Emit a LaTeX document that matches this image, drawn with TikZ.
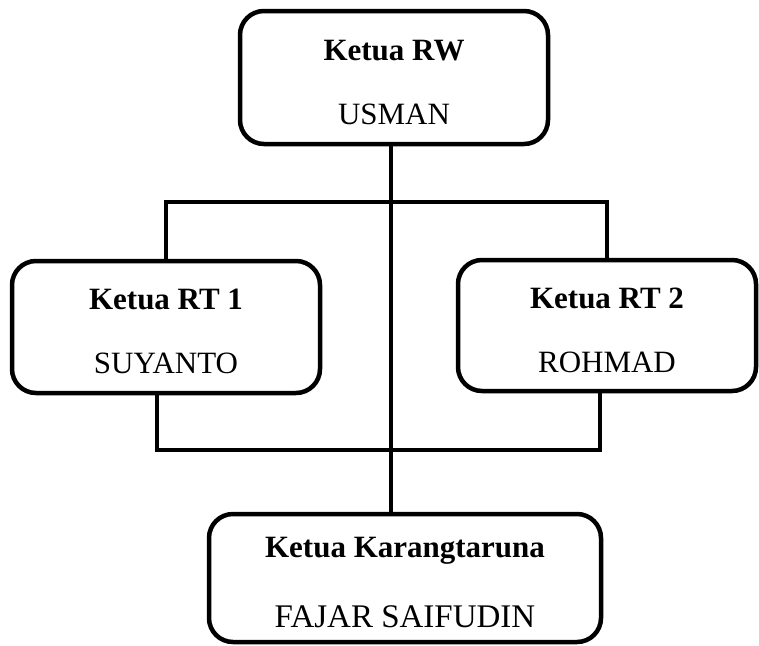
\documentclass[tikz,border=0pt]{standalone}
\usepackage{fontspec}
\setmainfont{Liberation Serif}
\usetikzlibrary{positioning,calc}
\newcommand{\jab}[2]{\rule{0pt}{30pt}\textbf{#1}\\#2}

\begin{document}
\begin{tikzpicture}[x=1pt, y=-1pt, line width=4.5pt,
    jabatan/.style={draw, rounded corners=24pt, align=center, inner sep=0pt, font=\fontsize{31}{64}\selectfont}]
\useasboundingbox (0,0) rectangle (759,645);
\node[jabatan, minimum width=308pt, minimum height=133pt] (rw) at (394,77.5) {\jab{Ketua RW}{USMAN}};
\node[jabatan, minimum width=308pt, minimum height=132pt] (rt1) at (166,327) {\jab{Ketua RT 1}{SUYANTO}};
\node[jabatan, minimum width=298pt, minimum height=131pt] (rt2) at (607,325.5) {\jab{Ketua RT 2}{ROHMAD}};
\node[jabatan, minimum width=392pt, minimum height=128pt] (kt) at (405,578) {\jab{Ketua Karangtaruna}{[6pt]\fontsize{33}{64}\selectfont FAJAR SAIFUDIN}};
% garis penghubung
\coordinate (atas) at (391,202);
\coordinate (bawah) at (391,450);
\draw (rt1.north) |- (atas) -| (rt2.north);
\draw ([xshift=-9pt]rt1.south) |- (bawah) -| ([xshift=-7pt]rt2.south);
\draw (rw.south -| atas) -- (kt.north -| atas);
\end{tikzpicture}
\end{document}
